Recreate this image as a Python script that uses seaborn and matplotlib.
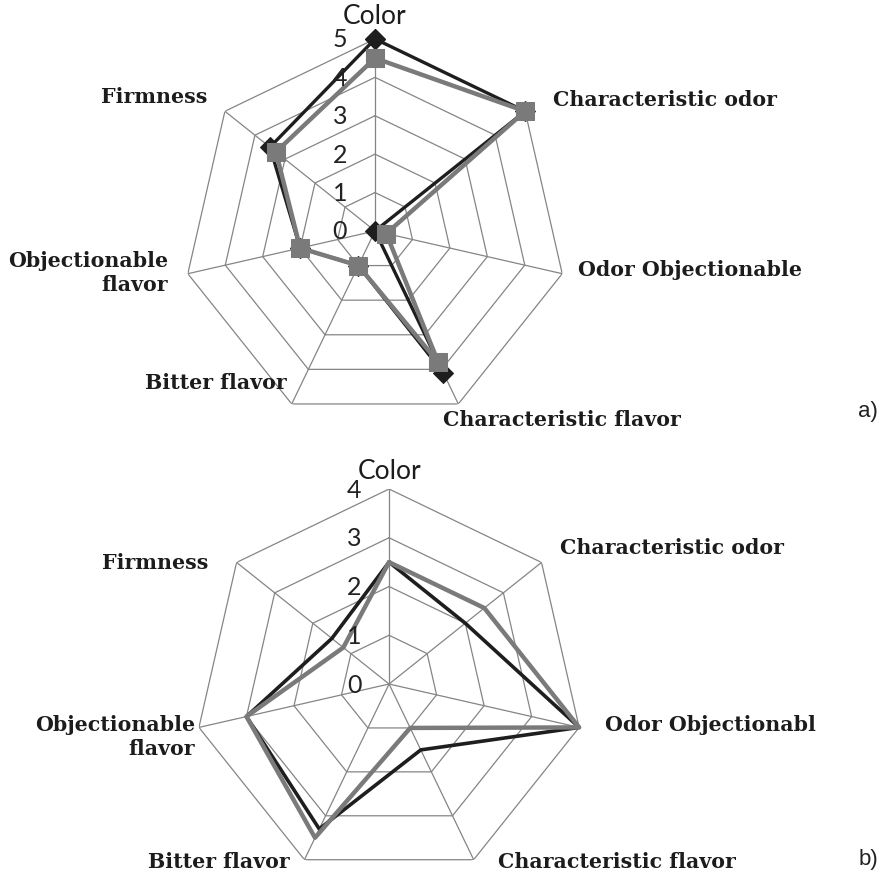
import numpy as np
import matplotlib
matplotlib.use("Agg")
import matplotlib.pyplot as plt
import seaborn as sns

# ======================================
# DATA
# ======================================

categories = ["Color", "Characteristic odor", "Odor Objectionable",
              "Characteristic flavor", "Bitter flavor",
              "Objectionable flavor", "Firmness"]

# panel a) - black diamonds / gray squares
a_black = [5.0, 5.0, 0.0, 4.1, 1.0, 2.0, 3.5]
a_gray = [4.5, 5.0, 0.3, 3.8, 1.0, 2.0, 3.3]
a_ticks = [0, 1, 2, 3, 4, 5]

# panel b) - lines only
b_black = [2.5, 2.0, 4.0, 1.5, 3.3, 3.0, 1.5]
b_gray = [2.5, 2.5, 4.0, 1.0, 3.5, 3.0, 1.2]
b_ticks = [0, 1, 2, 3, 4]

# label text as printed in each panel
a_labels = ["Color", "Characteristic odor", "Odor Objectionable",
            "Characteristic flavor", "Bitter flavor",
            "Objectionable\nflavor", "Firmness"]
b_labels = ["Color", "Characteristic odor", "Odor Objectionabl",
            "Characteristic flavor", "Bitter flavor",
            "Objectionable\nflavor", "Firmness"]

# ======================================
# STYLE
# ======================================

sns.set_style("white")
plt.rcParams["font.family"] = ["DejaVu Serif"]

W, H = 882, 878
BLACK = "#1e1e1e"
GRAY = "#7a7a7a"
GRID = "#858585"
TXT = "#1c1c1c"

fig = plt.figure(figsize=(W / 100, H / 100), dpi=100)


def px(x, y):
    return x / W, 1 - y / H


def radar(ax, black, gray, ticks, markers):
    n = len(categories)
    angles = np.linspace(0, 2 * np.pi, n, endpoint=False)
    # close the polygon at 2*pi so every x stays unique for seaborn
    closed = np.append(angles, 2 * np.pi)
    rmax = ticks[-1]

    ax.set_theta_zero_location("N")
    ax.set_theta_direction(-1)
    ax.set_ylim(0, rmax)
    ax.grid(False)
    ax.set_xticks([])
    ax.set_yticks([])
    ax.spines["polar"].set_visible(False)
    ax.patch.set_alpha(0)

    # polygon rings and spokes
    for r in ticks[1:]:
        ax.plot(closed, [r] * len(closed), color=GRID, lw=0.9, zorder=1)
    for a in angles:
        ax.plot([a, a], [0, rmax], color=GRID, lw=0.9, zorder=1)

    # ring values
    for r in ticks:
        ax.annotate(str(r), xy=(0, r), xytext=(-20, 0), textcoords="offset points",
                    ha="right", va="center", fontsize=18, family="Lato",
                    color="#222222", zorder=5)

    vb = np.append(black, black[0])
    vg = np.append(gray, gray[0])
    if markers:
        sns.lineplot(x=closed, y=vb, sort=False, estimator=None, ax=ax,
                     color=BLACK, lw=2.4, marker="D", markersize=10,
                     markeredgecolor=BLACK, clip_on=False, zorder=3)
        sns.lineplot(x=closed, y=vg, sort=False, estimator=None, ax=ax,
                     color=GRAY, lw=3.2, marker="s", markersize=13,
                     markeredgecolor=GRAY, clip_on=False, zorder=4)
    else:
        sns.lineplot(x=closed, y=vb, sort=False, estimator=None, ax=ax,
                     color=BLACK, lw=2.6, clip_on=False, zorder=3)
        sns.lineplot(x=closed, y=vg, sort=False, estimator=None, ax=ax,
                     color=GRAY, lw=3.2, clip_on=False, zorder=4)
    ax.set_xlabel("")
    ax.set_ylabel("")


def put_labels(labels, pos):
    for lab, (x, y, ha) in zip(labels, pos):
        if lab == "Color":
            fig.text(*px(x, y), lab, ha=ha, va="center", fontsize=19,
                     family="Lato", color=TXT)
        else:
            fig.text(*px(x, y), lab, ha=ha, va="center", fontsize=14.8,
                     family="DejaVu Serif", weight="bold", color=TXT,
                     multialignment="right", linespacing=1.25)


# ======================================
# PANEL a)
# ======================================

ax1 = fig.add_axes([0.2075, 0.5171, 0.4354, 0.4374], projection="polar")
radar(ax1, a_black, a_gray, a_ticks, markers=True)

a_pos = [(375, 17, "center"), (553, 100, "left"), (578, 270, "left"),
         (443, 420, "left"), (287, 383, "right"), (168, 273, "right"),
         (207, 97, "right")]
put_labels(a_labels, a_pos)

# ======================================
# PANEL b)
# ======================================

ax2 = fig.add_axes([0.22, -0.0023, 0.4422, 0.4442], projection="polar")
radar(ax2, b_black, b_gray, b_ticks, markers=False)

b_pos = [(390, 472, "center"), (560, 548, "left"), (605, 725, "left"),
         (498, 862, "left"), (290, 862, "right"), (195, 737, "right"),
         (208, 563, "right")]
put_labels(b_labels, b_pos)

# panel tags
fig.text(*px(878, 412), "a)", ha="right", va="center", fontsize=16,
         family="Liberation Sans", color="#222222")
fig.text(*px(878, 860), "b)", ha="right", va="center", fontsize=16,
         family="Liberation Sans", color="#222222")

fig.savefig("out.png", dpi=100)
